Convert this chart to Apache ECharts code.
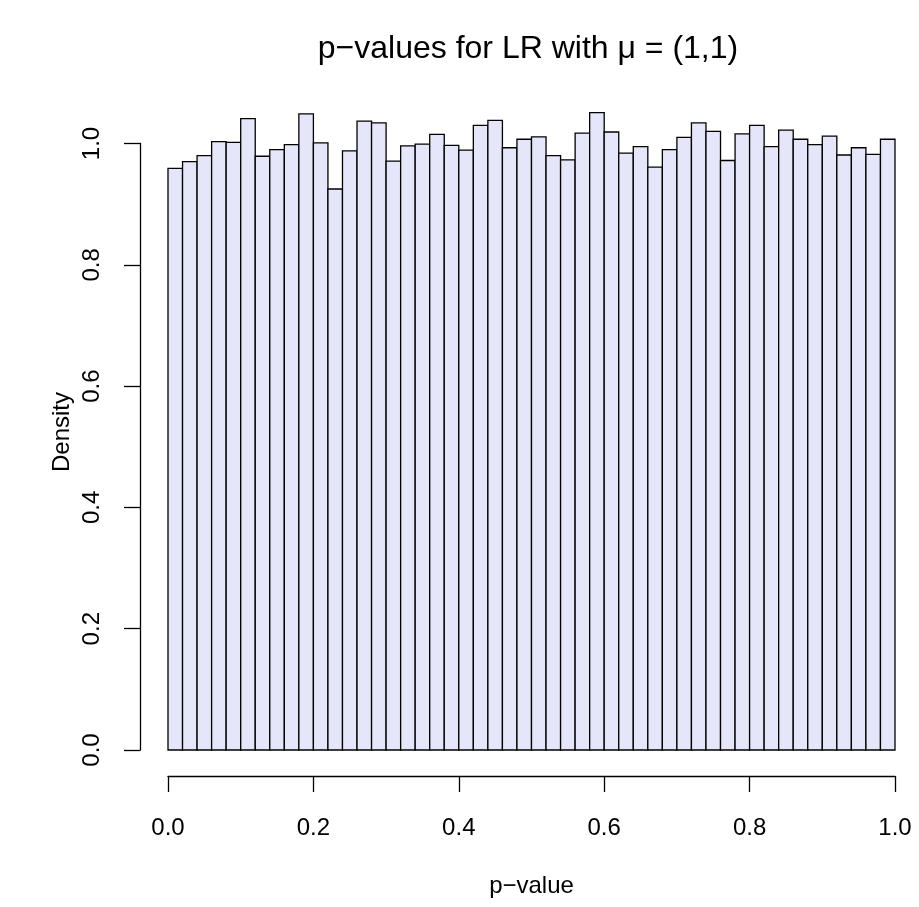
<!DOCTYPE html>
<html>
<head>
<meta charset="utf-8">
<script src="https://cdn.jsdelivr.net/npm/echarts@6/dist/echarts.min.js"></script>
<style>html,body{margin:0;padding:0;background:#fff}#c{width:919px;height:907px}</style>
</head>
<body>
<div id="c"></div>
<script>
var breaks = [0.00,0.02,0.04,0.06,0.08,0.10,0.12,0.14,0.16,0.18,0.20,0.22,0.24,0.26,0.28,0.30,0.32,0.34,0.36,0.38,0.40,0.42,0.44,0.46,0.48,0.50,0.52,0.54,0.56,0.58,0.60,0.62,0.64,0.66,0.68,0.70,0.72,0.74,0.76,0.78,0.80,0.82,0.84,0.86,0.88,0.90,0.92,0.94,0.96,0.98,1.00];
var density = [0.959,0.970,0.980,1.003,1.002,1.041,0.979,0.990,0.998,1.049,1.001,0.925,0.988,1.037,1.034,0.971,0.996,0.999,1.015,0.997,0.989,1.030,1.038,0.993,1.007,1.011,0.980,0.973,1.017,1.051,1.019,0.984,0.995,0.961,0.990,1.010,1.034,1.020,0.972,1.016,1.030,0.995,1.022,1.007,0.998,1.012,0.981,0.993,0.982,1.007];
var xTicks = [0, 0.2, 0.4, 0.6, 0.8, 1.0];
var yTicks = [0, 0.2, 0.4, 0.6, 0.8, 1.0];
var titleText = 'p\u2212values for LR with \u03bc = (1,1)';
var xName = 'p\u2212value';
var yName = 'Density';

var bins = [];
for (var i = 0; i < density.length; i++) bins.push([breaks[i], breaks[i+1], density[i]]);

var chart = echarts.init(document.getElementById('c'), null, {renderer: 'canvas'});
var font = 'Liberation Sans, Arial, Helvetica, sans-serif';
chart.setOption({
  animation: false,
  backgroundColor: '#ffffff',
  title: {
    text: titleText, left: 523, textAlign: 'center', top: 28,
    textStyle: {fontFamily: font, fontSize: 32, fontWeight: 'normal', color: '#000'}
  },
  graphic: [{
    type: 'text', x: 62, y: 432, rotation: Math.PI / 2,
    style: {text: yName, font: '24px ' + font, fill: '#000', align: 'center', verticalAlign: 'middle'}
  }],
  grid: {left: 168, right: 24, top: 143.5, bottom: 157, containLabel: false},
  xAxis: {
    type: 'value', min: 0, max: 1, interval: 0.2, offset: 26,
    name: xName, nameLocation: 'middle', nameGap: 98,
    nameTextStyle: {fontFamily: font, fontSize: 24, color: '#000'},
    axisLine: {show: true, onZero: false, lineStyle: {color: '#000', width: 1.3}},
    axisTick: {show: true, length: 16, lineStyle: {color: '#000', width: 1.3}},
    axisLabel: {fontFamily: font, fontSize: 24, color: '#000', margin: 40,
      formatter: function (v) { return v.toFixed(1); }},
    splitLine: {show: false}
  },
  yAxis: {
    type: 'value', min: 0, max: 1, interval: 0.2, offset: 28,
    axisLine: {show: true, onZero: false, lineStyle: {color: '#000', width: 1.3}},
    axisTick: {show: true, length: 16, lineStyle: {color: '#000', width: 1.3}},
    axisLabel: {fontFamily: font, fontSize: 24, color: '#000', margin: 36, rotate: 90,
      formatter: function (v) { return v.toFixed(1); }},
    splitLine: {show: false}
  },
  series: [{
    type: 'custom',
    clip: false,
    data: bins,
    renderItem: function (params, api) {
      var p0 = api.coord([api.value(0), 0]);
      var p1 = api.coord([api.value(1), api.value(2)]);
      return {
        type: 'rect',
        shape: {x: p0[0], y: p1[1], width: p1[0] - p0[0], height: p0[1] - p1[1]},
        style: {fill: '#E6E6FA', stroke: '#000', lineWidth: 1.3}
      };
    }
  }]
});
</script>
</body>
</html>
